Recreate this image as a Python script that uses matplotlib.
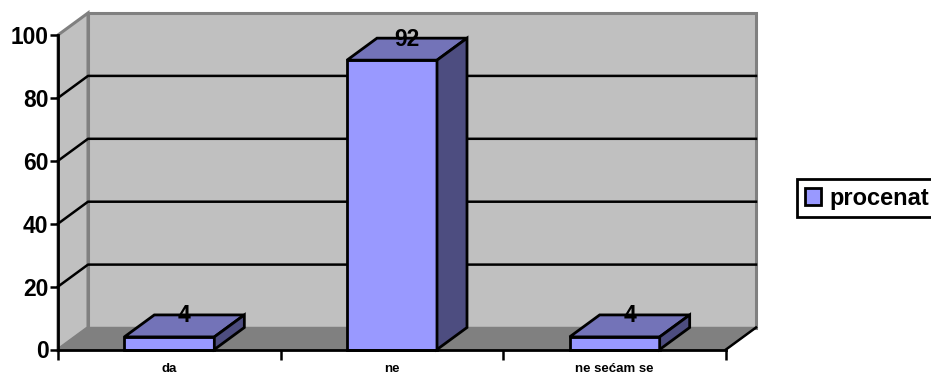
import matplotlib
matplotlib.use('Agg')
import matplotlib.pyplot as plt
from matplotlib.patches import Polygon, Patch

categories = ['da', 'ne', 'ne se\u0107am se']
values = [4, 92, 4]
y_ticks = [0, 20, 40, 60, 80, 100]
series_name = 'procenat'

W, H = 931, 374
plt.rcParams['font.family'] = ['Liberation Sans', 'DejaVu Sans']
plt.rcParams['font.weight'] = 'bold'

fig = plt.figure(figsize=(W / 100, H / 100), dpi=100)
# front plane of the fake 3d box, in pixels
left, right, top, bottom = 58, 726, 35, 349.5
ax = fig.add_axes([left / W, 1 - bottom / H, (right - left) / W, (bottom - top) / H])
ax.set_xlim(0, 3)
ax.set_ylim(0, 100)
ax.patch.set_visible(False)

# depth offset in data units
dx = 30 / (right - left) * 3
dy = 22 / (bottom - top) * 100
bar_w = 90 / (right - left) * 3

wall = '#c0c0c0'
floor = '#808080'
front = '#9999ff'
top_c = '#7373b8'
side = '#4d4d80'


def poly(pts, fc, ec, lw=1.5, z=1):
    ax.add_patch(Polygon(pts, closed=True, facecolor=fc, edgecolor=ec, linewidth=lw,
                         clip_on=False, zorder=z, joinstyle='miter'))


# walls and floor
poly([(dx, dy), (3 + dx, dy), (3 + dx, 100 + dy), (dx, 100 + dy)], wall, floor, 2.2, 1)
poly([(0, 0), (dx, dy), (dx, 100 + dy), (0, 100)], wall, floor, 2.2, 1)
poly([(0, 0), (3, 0), (3 + dx, dy), (dx, dy)], floor, floor, 1, 1.5)

# gridlines
for t in y_ticks[1:-1]:
    ax.plot([0, dx, 3 + dx], [t, t + dy, t + dy], color='black', lw=1.8, clip_on=False, zorder=2)
ax.plot([3, 3 + dx], [0, dy], color='black', lw=1.8, clip_on=False, zorder=2)

# bars
xs = [i + 0.5 for i in range(len(values))]
ax.bar(xs, values, width=bar_w, color=front, edgecolor='black', linewidth=2, zorder=3, clip_on=False)
for x, v in zip(xs, values):
    x0, x1 = x - bar_w / 2, x + bar_w / 2
    poly([(x0, v), (x1, v), (x1 + dx, v + dy), (x0 + dx, v + dy)], top_c, 'black', 2, 3)
    poly([(x1, 0), (x1 + dx, dy), (x1 + dx, v + dy), (x1, v)], side, 'black', 2, 3)
    ax.text(x + dx / 2, v + dy - 0.3, str(v), ha='center', va='center', fontsize=16.5, color='black',
            zorder=5, clip_on=False)

# axes
for s in ['top', 'right']:
    ax.spines[s].set_visible(False)
for s in ['left', 'bottom']:
    ax.spines[s].set_linewidth(2)
    ax.spines[s].set_zorder(4)
ax.set_yticks(y_ticks)
ax.tick_params(axis='y', labelsize=16.4, length=6, width=1.8, pad=1)
ax.set_xticks([0, 1, 2, 3])
ax.set_xticklabels([])
ax.tick_params(axis='x', which='major', length=7, width=1.8)
ax.set_xticks(xs, minor=True)
ax.set_xticklabels(categories, minor=True, fontsize=9.5)
ax.tick_params(axis='x', which='minor', length=0, pad=10)

handle = Patch(facecolor=front, edgecolor='black', linewidth=2, label=series_name)
leg = fig.legend(handles=[handle], loc='center left', bbox_to_anchor=(797 / W, 1 - 198 / H),
                 prop={'size': 17, 'weight': 'bold'}, frameon=True, fancybox=False,
                 edgecolor='black', framealpha=1, borderaxespad=0, borderpad=0.32,
                 handlelength=0.7, handleheight=0.7, handletextpad=0.35)
leg.get_frame().set_linewidth(2)

fig.savefig('out.png', dpi=100)
